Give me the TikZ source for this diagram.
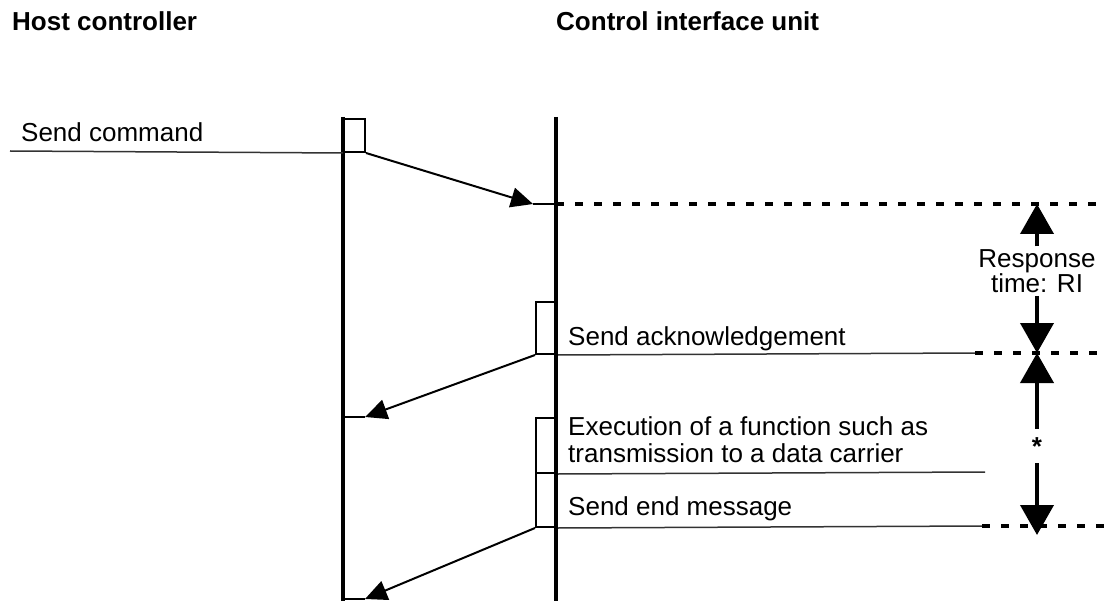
\documentclass[tikz,border=0pt]{standalone}
\usepackage{fontspec}
\setmainfont{Liberation Sans}
\usetikzlibrary{arrows.meta,positioning}

\begin{document}
\begin{tikzpicture}[x=1pt,y=-1pt,
  font=\fontsize{26}{25}\selectfont,
  life/.style={line width=4pt},
  act/.style={draw,line width=2pt,minimum width=21pt,inner sep=0pt,anchor=north west},
  msg/.style={-{Triangle[length=22pt,width=20pt]},line width=2pt},
  lbl/.style={line width=1.5pt,black!80},
  dotline/.style={line width=3.5pt,dash pattern=on 8pt off 11pt},
  dim/.style={-{Triangle[length=30pt,width=33pt]},line width=4pt},
  txt/.style={anchor=base west,inner sep=0pt},
  head/.style={txt,font=\fontsize{26}{25}\selectfont\bfseries}]
\useasboundingbox (0,0) rectangle (1110,601);
\node[head] (hc) at (12,31) {Host controller};
\node[head] (ciu) at (556,31) {Control interface unit};
\coordinate (hctop) at (343,117); \coordinate (hcbot) at (343,601);
\coordinate (ciutop) at (556,117); \coordinate (ciubot) at (556,601);
\draw[life] (hctop) -- (hcbot);
\draw[life] (ciutop) -- (ciubot);
\node[act,minimum height=33pt] (cmdbox) at (343,118) {};
\node[act,minimum height=52pt] (ackbox) at (535,301) {};
\node[act,minimum height=55pt] (exebox) at (535,417) {};
\node[act,minimum height=54pt] (endbox) at (535,472) {};
\node[txt] (cmd) at (21,142) {Send command};
\node[txt] (ack) at (568,345) {Send acknowledgement};
\node[txt,align=left,font=\fontsize{26}{27}\selectfont] (exe) at (568,462) {Execution of a function such as\\transmission to a data carrier};
\node[txt] (endmsg) at (568,515) {Send end message};
\coordinate (cmdstart) at (10,151);
\coordinate (cmdin) at (533,204);
\coordinate (ackin) at (365,417);
\coordinate (endin) at (365,599);
\draw[lbl] (cmdstart) -- (cmdbox.south west);
\draw[msg] (cmdbox.south east) -- (cmdin);
\draw[line width=2pt] (cmdin) -- (556,204);
\draw[msg] (ackbox.south west) -- (ackin);
\draw[line width=2pt] (ackin) -- (343,417);
\draw[msg] (endbox.south west) -- (endin);
\draw[line width=2pt] (endin) -- (343,599);
\draw[lbl] (ackbox.south east) -- (975,353);
\draw[lbl] (exebox.south east) -- (985,472);
\draw[lbl] (endbox.south east) -- (982,526);
\draw[dotline] (556,204) -- (1105,204);
\draw[dotline] (975,353) -- (1105,353);
\draw[dotline] (982,526) -- (1105,526);
\coordinate (rtop) at (1037,204);
\coordinate (rmid) at (1037,353);
\coordinate (rbot) at (1037,535);
\node[align=center,inner xsep=0pt,inner ysep=3pt] (resp) at (1037,271.2) {Response\\time: RI};
\node[anchor=base,inner xsep=0pt,inner ysep=8pt,font=\fontsize{26}{25}\selectfont\bfseries] (star) at (1037,455) {*};
\draw[dim] (resp.north) -- (rtop);
\draw[dim] (resp.south) -- (rmid);
\draw[dim] (star.north) -- (rmid);
\draw[dim] (star.south) -- (rbot);
\end{tikzpicture}
\end{document}
